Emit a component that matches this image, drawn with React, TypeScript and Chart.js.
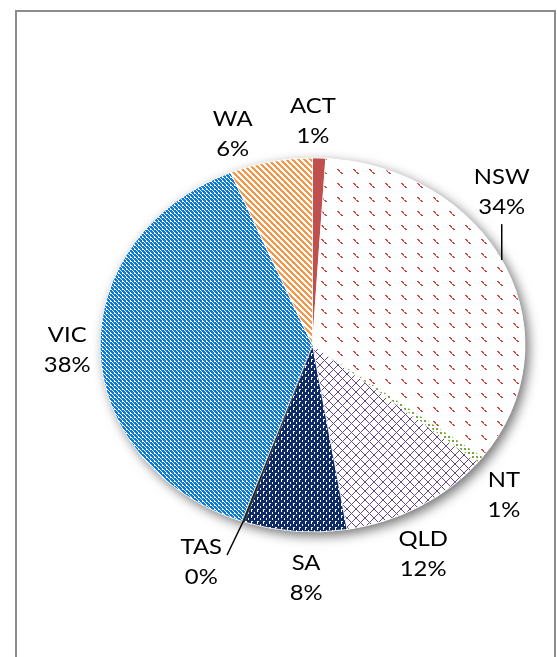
import React, { useEffect, useRef } from 'react';
import { Chart, registerables } from 'chart.js';

Chart.register(...registerables);

// ---- data ----
const categories = ['ACT', 'NSW', 'NT', 'QLD', 'SA', 'TAS', 'VIC', 'WA'];
const shares = [1.0, 34.2, 0.6, 11.6, 7.8, 0.2, 38.3, 6.3];

// ---- styles ----
const STRETCH_X = 1.136; // pie is drawn as a horizontally stretched ellipse
const labelAngleNudge = [-1.7, -17.7, 3.9, 5.3, -3.3, 5.2, 0.3, -7.1]; // degrees from slice middle
const labelDistance = [1.198, 1.209, 1.207, 1.235, 1.246, 1.273, 1.155, 1.187]; // x radius
const leaderStyle = ['', 'vertical', '', '', '', 'radial', '', ''];
const FONT = '21px Lato, "Open Sans", sans-serif';

function makeTile(ctx: CanvasRenderingContext2D, rows: string[], colors: Record<string, string>) {
  const h = rows.length;
  const w = rows[0].length;
  const c = document.createElement('canvas');
  c.width = w;
  c.height = h;
  const g = c.getContext('2d')!;
  for (let y = 0; y < h; y++) {
    for (let x = 0; x < w; x++) {
      g.fillStyle = colors[rows[y][x]] || '#ffffff';
      g.fillRect(x, y, 1, 1);
    }
  }
  return ctx.createPattern(c, 'repeat')!;
}

function buildFills(ctx: CanvasRenderingContext2D) {
  // NSW: red dashed diagonal marks on white
  const nsw = makeTile(
    ctx,
    [
      '................',
      '.rr.............',
      '..rr............',
      '...r............',
      '....rr..........',
      '.....rr.........',
      '................',
      '................',
      '................',
      '................',
      '................',
      '................',
      '................',
      '................',
    ],
    { r: '#D0463F' },
  );
  // NT: green dots
  const nt = makeTile(ctx, ['gg..', 'gg..', '....', '....'], { g: '#78A83A' });
  // QLD: purple diagonal cross lattice
  const q: string[] = [];
  for (let y = 0; y < 9; y++) {
    let row = '';
    for (let x = 0; x < 9; x++) row += x === y || x === (9 - y) % 9 ? 'p' : '.';
    q.push(row);
  }
  const qld = makeTile(ctx, q, { p: '#66498A' });
  // SA: navy with white specks
  const sa = makeTile(ctx, ['nnnnn.', 'nnnnn.', 'nn.nnn', 'nn.nnn', 'nnnnnn', '.nnnn.'], { n: '#0E2B68' });
  // VIC: blue confetti
  const vic = makeTile(ctx, ['bb.b', 'bb..', '.bbb', 'b.bb'], { b: '#0A7AD6' });
  // WA: orange downward diagonal stripes
  const w: string[] = [];
  for (let y = 0; y < 6; y++) {
    let row = '';
    for (let x = 0; x < 6; x++) row += (((x - y) % 6) + 6) % 6 < 3 ? 'o' : '.';
    w.push(row);
  }
  const wa = makeTile(ctx, w, { o: '#F79646' });
  return ['#C0504D', nsw, nt, qld, sa, '#222222', vic, wa];
}

const stretchPlugin = {
  id: 'stretchPie',
  beforeDatasetsDraw(chart: any) {
    const arc = chart.getDatasetMeta(0).data[0];
    if (!arc) return;
    const { x, y, outerRadius } = arc;
    const ctx = chart.ctx;
    // keep pattern tiles pixel-aligned on screen despite the stretch
    const fills = chart.data.datasets[0].backgroundColor as any[];
    fills.forEach((f) => {
      if (f && typeof f === 'object' && typeof f.setTransform === 'function') {
        f.setTransform(new DOMMatrix([1 / STRETCH_X, 0, 0, 1, (-x * (1 - STRETCH_X)) / STRETCH_X, 0]));
      }
    });
    ctx.save();
    ctx.translate(x, y);
    ctx.scale(STRETCH_X, 1);
    ctx.translate(-x, -y);
    // soft shadow under the pie
    ctx.save();
    ctx.beginPath();
    ctx.arc(x, y, outerRadius, 0, Math.PI * 2);
    ctx.fillStyle = '#ffffff';
    ctx.shadowColor = 'rgba(0,0,0,0.55)';
    ctx.shadowBlur = 12;
    ctx.shadowOffsetX = 4;
    ctx.shadowOffsetY = 4;
    ctx.fill();
    ctx.restore();
  },
  afterDatasetsDraw(chart: any) {
    chart.ctx.restore();
  },
  afterDraw(chart: any) {
    const meta = chart.getDatasetMeta(0);
    const ctx: CanvasRenderingContext2D = chart.ctx;
    const data = chart.data.datasets[0].data as number[];
    const total = data.reduce((a, b) => a + b, 0);
    ctx.save();
    ctx.font = FONT;
    ctx.fillStyle = '#000000';
    ctx.textAlign = 'center';
    ctx.textBaseline = 'middle';
    meta.data.forEach((arc: any, i: number) => {
      const { x: cx, y: cy, outerRadius: r, startAngle, endAngle } = arc;
      const mid = (startAngle + endAngle) / 2;
      const a = mid + (labelAngleNudge[i] * Math.PI) / 180;
      const d = labelDistance[i] * r;
      const lx = cx + Math.cos(a) * d * STRETCH_X;
      const ly = cy + Math.sin(a) * d;
      const name = chart.data.labels[i];
      const pct = Math.round((data[i] / total) * 100) + '%';
      ctx.save();
      ctx.translate(lx, ly);
      ctx.scale(STRETCH_X, 1);
      ctx.fillText(name, 0, -15);
      ctx.fillText(pct, 0, 15);
      const tw = ctx.measureText(name).width * STRETCH_X;
      ctx.restore();
      if (leaderStyle[i]) {
        ctx.save();
        ctx.strokeStyle = '#000';
        ctx.lineWidth = 1.5;
        ctx.beginPath();
        if (leaderStyle[i] === 'vertical') {
          const t = (lx - cx) / (r * STRETCH_X);
          const ye = cy - r * Math.sqrt(Math.max(0, 1 - t * t));
          ctx.moveTo(lx, ly + 32);
          ctx.lineTo(lx, ye);
        } else {
          const ex = cx + Math.cos(mid) * r * STRETCH_X;
          const ey = cy + Math.sin(mid) * r;
          ctx.moveTo(ex, ey);
          ctx.lineTo(lx + tw / 2 + 5, ly - 7);
        }
        ctx.stroke();
        ctx.restore();
      }
    });
    ctx.restore();
  },
};

export default function App() {
  const ref = useRef<HTMLCanvasElement>(null);
  useEffect(() => {
    const canvas = ref.current!;
    const ctx = canvas.getContext('2d')!;
    const fills = buildFills(ctx);
    const borders = categories.map((c) => (c === 'TAS' ? '#222222' : '#ffffff'));
    const chart = new Chart(canvas, {
      type: 'pie',
      data: {
        labels: categories,
        datasets: [
          {
            data: shares,
            backgroundColor: fills as any,
            borderColor: borders,
            borderWidth: 0.75,
            radius: 187,
            clip: false as any,
          } as any,
        ],
      },
      options: {
        responsive: false,
        maintainAspectRatio: false,
        animation: false,
        layout: { padding: { left: 112.5, right: 44.5, top: 145, bottom: 112 } },
        plugins: { legend: { display: false }, tooltip: { enabled: false } },
      },
      plugins: [stretchPlugin],
    });
    return () => chart.destroy();
  }, []);
  return (
    <div
      style={{
        position: 'absolute',
        left: 0,
        top: 0,
        width: 557,
        height: 657,
        overflow: 'hidden',
        background: '#ffffff',
      }}
    >
      <div
        style={{
          position: 'absolute',
          left: 15,
          top: 10,
          width: 537,
          height: 700,
          border: '2px solid #8c8c8c',
          boxSizing: 'content-box',
        }}
      />
      <canvas ref={ref} width={557} height={657} style={{ position: 'absolute', left: 0, top: 0 }} />
    </div>
  );
}
